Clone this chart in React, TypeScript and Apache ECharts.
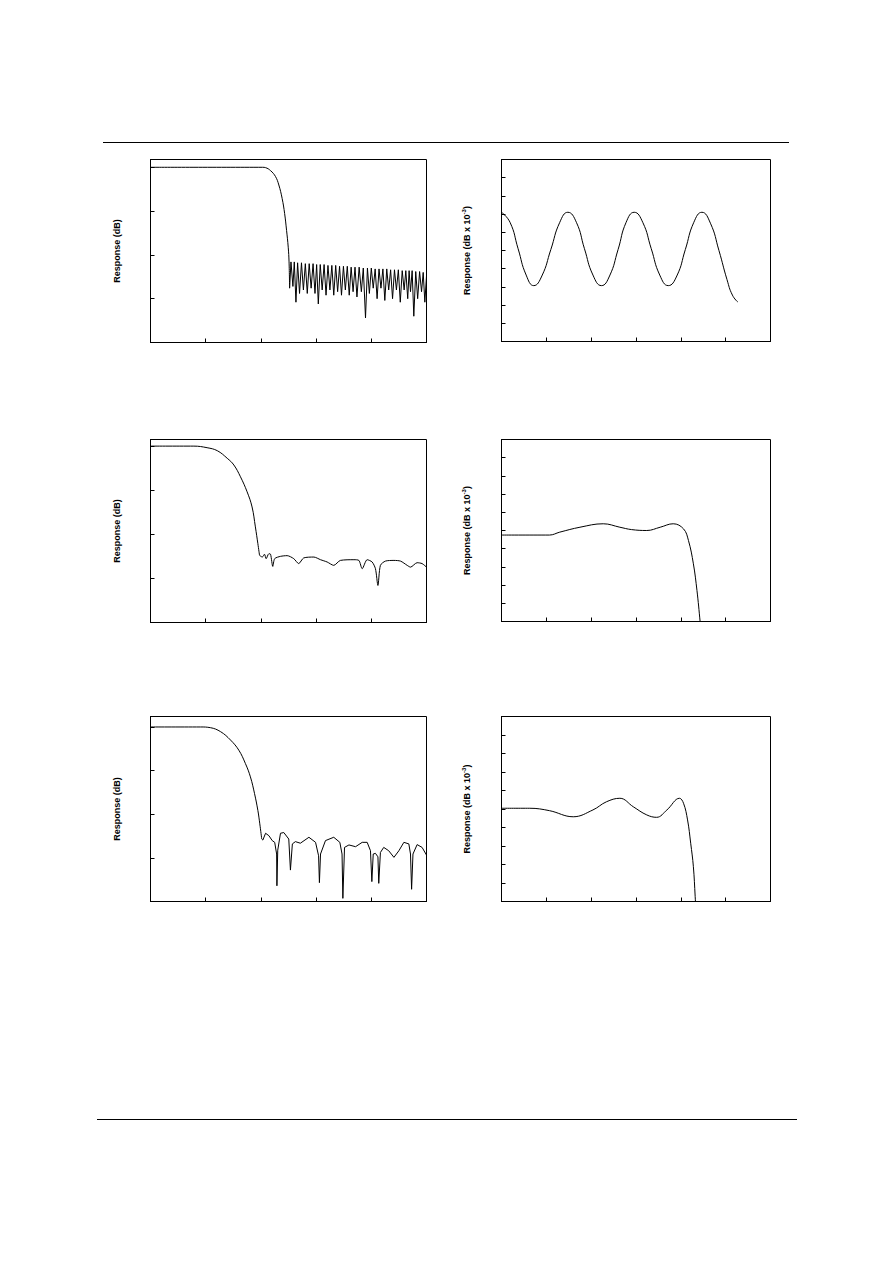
import React, { useEffect, useRef } from "react";
import * as echarts from "echarts";

// ---------- axis titles ----------
const leftAxisName = "Response (dB)";
const rightAxisName = "{a|Response (dB x 10}{b|-3}{a|)}";

// ---------- left column: magnitude response (x 0..100, dB) ----------
const p1Pass = [
  [0, 0], [40.6, 0], [41.7, -0.2], [43.5, -1.9], [45.3, -5.3], [46.5, -10.1],
  [47.7, -17.8], [48.6, -26.4], [49.3, -36.0], [49.9, -45.6], [50.2, -54.0], [50.4, -69],
];
const p1Stop = [
  [50.4, -69], [50.9, -54], [51.6, -68], [52.1, -54], [52.7, -77], [53.3, -54.5],
  [54.0, -72], [54.7, -54.5], [55.4, -70], [56.1, -55], [56.8, -72], [57.5, -55],
  [58.2, -69], [58.9, -55], [59.6, -72], [60.2, -55.5], [60.8, -78], [61.5, -55.5],
  [62.2, -70], [62.9, -55.5], [63.6, -73], [64.3, -56], [65.0, -70], [65.7, -56],
  [66.4, -73], [67.1, -56], [67.8, -71], [68.5, -56.5], [69.2, -73], [69.9, -56.5],
  [70.6, -70], [71.3, -56.5], [72.0, -73], [72.7, -57], [73.4, -71], [74.1, -57],
  [74.8, -74], [75.6, -57], [76.4, -71], [77.1, -57.5], [77.9, -86], [78.6, -57.5],
  [79.3, -72], [80.0, -57.5], [80.7, -69], [81.4, -58], [82.1, -75], [82.8, -58],
  [83.5, -69], [84.2, -58], [84.9, -76], [85.6, -58], [86.3, -70], [87.0, -58.5],
  [87.7, -75], [88.4, -58.5], [89.1, -70], [89.8, -58.5], [90.5, -77], [91.2, -59],
  [91.9, -70], [92.5, -59], [93.2, -75], [93.7, -59], [94.2, -71], [94.8, -59],
  [95.4, -85], [96.1, -59.5], [96.8, -75], [97.5, -59.5], [98.2, -71], [98.8, -60],
  [99.4, -77], [100, -62],
];

const p3Pass = [
  [0, 0], [15.7, 0], [20.5, -0.9], [24.2, -2.6], [27.8, -6.9], [30.2, -10.7],
  [32.6, -17.4], [35.0, -25.9], [36.8, -34.5], [38.0, -45.8], [38.9, -55.3], [39.5, -61.9],
];
const p3Stop = [
  [39.5, -61.9], [40.5, -62.9], [41.3, -61.3], [41.9, -63.8], [42.9, -61.0], [43.5, -61.3],
  [44.3, -68.2], [45.0, -63.8], [47.1, -62.5], [49.5, -62.1], [51.9, -63.8], [53.7, -66.6],
  [55.5, -63.4], [59.2, -62.9], [61.6, -64.4], [64.0, -65.7], [66.4, -67.6], [68.8, -64.8],
  [73.7, -64.4], [75.5, -64.8], [76.7, -69.5], [78.5, -64.4], [80.3, -65.7], [81.5, -69.5],
  [82.4, -79.0], [83.3, -67.6], [85.1, -65.2], [88.2, -64.8], [90.6, -65.2], [93.0, -67.6],
  [94.2, -68.6], [96.6, -66.1], [98.4, -66.6], [100, -68.6],
];

const p5Pass = [
  [0, 0], [18.1, 0], [21.7, -0.4], [25.4, -2.7], [29.0, -7.5], [32.0, -13.3],
  [34.4, -21.0], [36.2, -28.6], [37.7, -38.2], [38.9, -47.8], [39.6, -55.5], [40.3, -64.2],
];
const p5Stop = [
  [40.3, -64.2], [40.7, -64.8], [41.7, -60.9], [42.9, -62.3], [44.1, -65.1], [45.0, -66.1],
  [45.7, -72.8], [45.8, -91.0], [46.1, -70.6], [47.1, -60.9], [48.3, -60.5], [50.1, -64.2],
  [50.7, -82.0], [51.4, -67.0], [52.5, -65.7], [54.3, -66.6], [57.4, -63.2], [59.8, -66.1],
  [60.9, -73.8], [61.2, -89.2], [61.6, -72.8], [63.4, -65.1], [66.4, -63.2], [68.6, -66.1],
  [69.4, -72.8], [69.7, -98.2], [70.3, -69.0], [71.9, -67.6], [74.3, -68.6], [76.7, -66.1],
  [78.5, -66.1], [79.7, -70.9], [80.2, -88.6], [80.7, -72.8], [81.5, -72.4], [82.4, -74.4],
  [82.7, -89.6], [83.3, -71.9], [84.5, -69.0], [86.3, -70.9], [88.2, -74.7], [90.0, -70.9],
  [91.8, -66.1], [93.6, -67.0], [94.2, -72.8], [94.6, -93.0], [95.1, -72.8], [96.6, -67.4],
  [98.4, -69.0], [100, -73.4],
];

// ---------- right column: passband ripple (x 0..6, dB x 10^-3) ----------
const p2Ripple = [
  [0.0, 2.1], [0.19, 1.55], [0.37, 0.1], [0.55, -1.35], [0.72, -1.93], [0.9, -1.4],
  [1.1, 0.05], [1.3, 1.55], [1.48, 2.1], [1.67, 1.55], [1.85, 0.1], [2.04, -1.35],
  [2.23, -1.93], [2.41, -1.4], [2.6, 0.05], [2.78, 1.55], [2.96, 2.1], [3.15, 1.55],
  [3.34, 0.1], [3.53, -1.35], [3.72, -1.93], [3.91, -1.4], [4.1, 0.05], [4.29, 1.55],
  [4.47, 2.1], [4.66, 1.5], [4.85, 0.0], [5.03, -1.6], [5.15, -2.45], [5.27, -2.83],
];
const p4Ripple = [
  [0, -0.25], [1.07, -0.25], [1.3, -0.09], [1.75, 0.18], [2.27, 0.37], [2.64, 0.18],
  [2.9, 0.05], [3.24, 0.0], [3.54, 0.18], [3.83, 0.37], [4.06, 0.09], [4.17, -0.55],
  [4.28, -1.83], [4.36, -3.3], [4.43, -5.0], [4.5, -6.8],
];
const p6Ripple = [
  [0, 0.04], [0.63, 0.04], [1.07, -0.09], [1.6, -0.42], [2.04, -0.05], [2.34, 0.39],
  [2.64, 0.58], [2.94, 0.12], [3.24, -0.32], [3.46, -0.45], [3.69, -0.05], [3.97, 0.58],
  [4.06, 0.31], [4.15, -0.59], [4.22, -1.85], [4.28, -3.12], [4.32, -4.74], [4.36, -6.5],
];

// ---------- layout ----------
const grids = [
  { left: 150.5, top: 159.5, width: 276, height: 183 },
  { left: 501.5, top: 159.5, width: 269, height: 182 },
  { left: 150.5, top: 439.5, width: 276, height: 183 },
  { left: 501.5, top: 439.5, width: 269, height: 182 },
  { left: 150.5, top: 716.5, width: 276, height: 185 },
  { left: 501.5, top: 716.5, width: 269, height: 185 },
];
const leftMax = [4.45, 3.75, 6.0];

const nameFont = {
  fontFamily: "Liberation Sans, Arial, sans-serif",
  fontWeight: "bold" as const,
  fontSize: 9,
  color: "#000",
};

function buildOption() {
  const grid = grids.map((g) => ({
    ...g,
    show: true,
    borderColor: "#000",
    borderWidth: 1,
    backgroundColor: "transparent",
    containLabel: false,
  }));
  const axisCommon = {
    type: "value" as const,
    axisLine: { show: true, onZero: false, lineStyle: { color: "#000", width: 1 } },
    axisTick: { show: true, inside: true, length: 4, lineStyle: { color: "#000", width: 1 } },
    axisLabel: { show: false },
    splitLine: { show: false },
  };
  const xAxis: any[] = [];
  const yAxis: any[] = [];
  for (let i = 0; i < 6; i++) {
    const isLeft = i % 2 === 0;
    const row = Math.floor(i / 2);
    if (isLeft) {
      xAxis.push({ ...axisCommon, gridIndex: i, min: 0, max: 100, interval: 20 });
      yAxis.push({
        ...axisCommon,
        gridIndex: i,
        min: -100,
        max: leftMax[row],
        interval: 25,
        name: leftAxisName,
        nameLocation: "middle",
        nameGap: 29,
        nameTextStyle: nameFont,
      });
    } else {
      xAxis.push({ ...axisCommon, gridIndex: i, min: 0, max: 6, interval: 1 });
      yAxis.push({
        ...axisCommon,
        gridIndex: i,
        min: -5,
        max: 5,
        interval: 1,
        name: rightAxisName,
        nameLocation: "middle",
        nameGap: 29,
        nameTextStyle: {
          ...nameFont,
          rich: {
            a: { ...nameFont, lineHeight: 12 },
            b: { ...nameFont, fontSize: 6, verticalAlign: "top", lineHeight: 12 },
          },
        },
      });
    }
  }
  const line = (data: number[][], idx: number, smooth: number | boolean) => ({
    type: "line",
    xAxisIndex: idx,
    yAxisIndex: idx,
    data,
    smooth,
    showSymbol: false,
    symbol: "none",
    clip: true,
    lineStyle: { color: "#000", width: 1 },
    silent: true,
  });
  const series = [
    line(p1Pass, 0, 0.4),
    line(p1Stop, 0, false),
    line(p2Ripple, 1, 0.5),
    line(p3Pass, 2, 0.4),
    line(p3Stop, 2, 0.25),
    line(p4Ripple, 3, 0.4),
    line(p5Pass, 4, 0.4),
    line(p5Stop, 4, false),
    line(p6Ripple, 5, 0.4),
  ];
  return {
    animation: false,
    backgroundColor: "#fff",
    grid,
    xAxis,
    yAxis,
    series,
    graphic: [
      { type: "line", shape: { x1: 103, y1: 142.5, x2: 789, y2: 142.5 }, style: { stroke: "#000", lineWidth: 1 } },
      { type: "line", shape: { x1: 97, y1: 1119.5, x2: 797, y2: 1119.5 }, style: { stroke: "#000", lineWidth: 1 } },
    ],
  };
}

export default function App() {
  const ref = useRef<HTMLDivElement>(null);
  useEffect(() => {
    if (!ref.current) return;
    const chart = echarts.init(ref.current, null, { renderer: "svg" });
    chart.setOption(buildOption() as any);
    return () => chart.dispose();
  }, []);
  return (
    <div
      ref={ref}
      style={{ position: "absolute", left: 0, top: 0, width: 892, height: 1263 }}
    />
  );
}
